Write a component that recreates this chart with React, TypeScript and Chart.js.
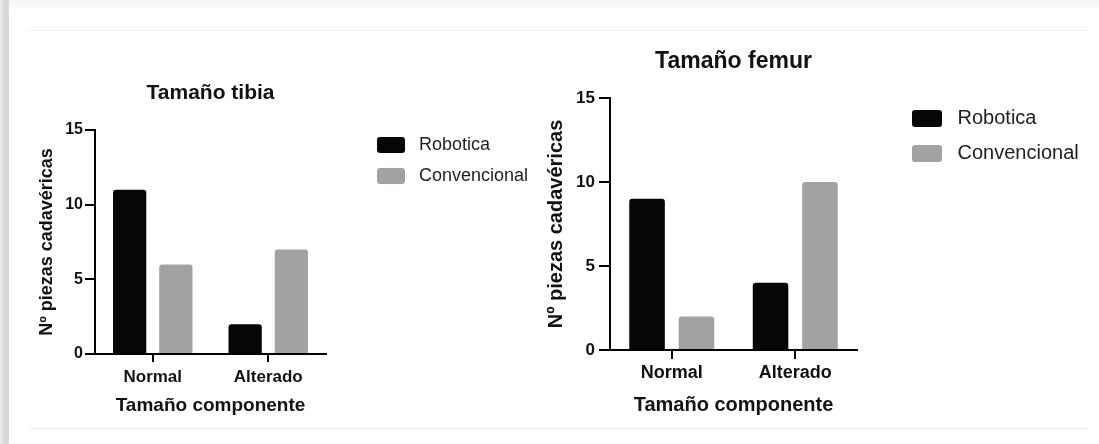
import React, { useEffect, useRef } from "react";
import { Chart, registerables } from "chart.js";

Chart.register(...registerables);

// ---- data ----
const categories = ["Normal", "Alterado"];
const seriesNames = ["Robotica", "Convencional"];
const tibiaRobotica = [11, 2];
const tibiaConvencional = [6, 7];
const femurRobotica = [9, 4];
const femurConvencional = [2, 10];
const yTicks = [0, 5, 10, 15];
const chartTitles = ["Tamaño tibia", "Tamaño femur"];
const yAxisTitle = "Nº piezas cadavéricas";
const xAxisTitle = "Tamaño componente";

// ---- style ----
const FONT = "Arial, 'Liberation Sans', Helvetica, sans-serif";
const BLACK = "#060606";
const GRAY = "#a4a1a5";
const TEXT = "#121212";

type Spec = {
  title: string;
  rob: number[];
  conv: number[];
  width: number;
  height: number;
  plotLeft: number;
  plotRight: number;
  plotTop: number;
  plotBottom: number;
  titleFont: number;
  titleCY: number;
  yTitleFont: number;
  yTitleCX: number;
  yTickFont: number;
  yTickLen: number;
  yTickPad: number;
  xTickFont: number;
  xLabelCY: number;
  xTickLen: number;
  xTitleFont: number;
  xTitleCY: number;
  legendFont: number;
  boxW: number;
  boxH: number;
  boxLeft: number;
  boxTop: number;
  itemStep: number;
};

const LABEL_PREFIX = " ";

function measure(text: string, font: string) {
  const c = document.createElement("canvas").getContext("2d")!;
  c.font = font;
  return c.measureText(text).width;
}

function buildConfig(s: Spec): any {
  const lh = (f: number) => f * 1.2;
  const maxText = Math.max(
    ...seriesNames.map((n) => measure(LABEL_PREFIX + n, `${s.legendFont}px ${FONT}`))
  );
  const p = s.itemStep - Math.max(s.legendFont, s.boxH);
  const legendLeft = s.boxLeft - p;
  const legendWidth = p + s.boxW + s.legendFont / 2 + maxText + 10;
  const padRight = Math.max(0, s.width - legendLeft - legendWidth);
  const boxYOffset = Math.max((s.legendFont - s.boxH) / 2, 0);
  const legendTitleH = s.boxTop - boxYOffset - p;
  const spacerW = legendLeft - s.plotRight;

  const barCommon = {
    borderWidth: 0,
    borderRadius: 3,
    categoryPercentage: 0.8,
    barPercentage: 0.72,
    xAxisID: "x",
    yAxisID: "y",
  };

  return {
    type: "bar",
    data: {
      labels: categories,
      datasets: [
        { label: seriesNames[0], data: s.rob, backgroundColor: BLACK, ...barCommon },
        { label: seriesNames[1], data: s.conv, backgroundColor: GRAY, ...barCommon },
      ],
    },
    options: {
      responsive: false,
      maintainAspectRatio: false,
      animation: false,
      devicePixelRatio: 1,
      events: [],
      layout: { padding: { left: 0, top: 0, bottom: 0, right: padRight } },
      plugins: {
        tooltip: { enabled: false },
        title: {
          display: true,
          text: s.title,
          fullSize: false,
          color: TEXT,
          font: { family: FONT, size: s.titleFont, weight: "bold", lineHeight: 1.2 },
          padding: {
            top: s.titleCY - lh(s.titleFont) / 2,
            bottom: s.plotTop - s.titleCY - lh(s.titleFont) / 2,
          },
        },
        legend: {
          display: true,
          position: "right",
          align: "start",
          maxWidth: 1000,
          title: {
            display: true,
            text: "",
            font: { size: 1, lineHeight: 1 },
            padding: { top: legendTitleH - 1, bottom: 0 },
          },
          labels: {
            boxWidth: s.boxW,
            boxHeight: s.boxH,
            padding: p,
            color: "#1e1e1e",
            useBorderRadius: true,
            borderRadius: 3,
            font: { family: FONT, size: s.legendFont },
            generateLabels: (chart: any) =>
              Chart.defaults.plugins.legend.labels
                .generateLabels(chart)
                .map((item: any) => ({ ...item, text: LABEL_PREFIX + item.text })),
          },
        },
      },
      scales: {
        x: {
          type: "category",
          position: "bottom",
          offset: true,
          afterFit: (sc: any) => {
            sc.height = s.height - s.plotBottom;
          },
          grid: {
            offset: false,
            drawOnChartArea: false,
            drawTicks: true,
            tickLength: s.xTickLen,
            color: "#000",
            lineWidth: 2,
          },
          border: { display: true, color: "#000", width: 2 },
          ticks: {
            color: TEXT,
            font: { family: FONT, size: s.xTickFont, weight: "bold", lineHeight: 1.2 },
            padding: s.xLabelCY - s.plotBottom - s.xTickLen - lh(s.xTickFont) / 2,
            maxRotation: 0,
          },
          title: {
            display: true,
            text: xAxisTitle,
            color: TEXT,
            font: { family: FONT, size: s.xTitleFont, weight: "bold", lineHeight: 1.2 },
            padding: { top: 0, bottom: s.height - s.xTitleCY - lh(s.xTitleFont) / 2 },
          },
        },
        y: {
          type: "linear",
          position: "left",
          min: 0,
          max: 15,
          afterBuildTicks: (sc: any) => {
            sc.ticks = yTicks.map((v) => ({ value: v }));
          },
          afterFit: (sc: any) => {
            sc.width = s.plotLeft;
          },
          grid: {
            drawOnChartArea: false,
            drawTicks: true,
            tickLength: s.yTickLen,
            color: "#000",
            lineWidth: 2,
          },
          border: { display: true, color: "#000", width: 2 },
          ticks: {
            color: TEXT,
            padding: s.yTickPad,
            font: { family: FONT, size: s.yTickFont, weight: "bold" },
          },
          title: {
            display: true,
            text: yAxisTitle,
            color: TEXT,
            font: { family: FONT, size: s.yTitleFont, weight: "bold", lineHeight: 1.2 },
            padding: { top: s.yTitleCX - lh(s.yTitleFont) / 2, bottom: 0 },
          },
        },
        spacer: {
          type: "linear",
          axis: "y",
          position: "right",
          display: true,
          grid: { display: false, drawTicks: false },
          border: { display: false },
          ticks: { display: false },
          afterFit: (sc: any) => {
            sc.width = spacerW;
          },
        },
      },
    },
  };
}

const tibiaSpec: Spec = {
  title: chartTitles[0],
  rob: tibiaRobotica,
  conv: tibiaConvencional,
  width: 540,
  height: 444,
  plotLeft: 95,
  plotRight: 326,
  plotTop: 130,
  plotBottom: 354,
  titleFont: 21,
  titleCY: 93,
  yTitleFont: 18,
  yTitleCX: 47,
  yTickFont: 16,
  yTickLen: 10,
  yTickPad: 2,
  xTickFont: 17,
  xLabelCY: 377,
  xTickLen: 8,
  xTitleFont: 19,
  xTitleCY: 406,
  legendFont: 18,
  boxW: 28,
  boxH: 16,
  boxLeft: 377,
  boxTop: 137,
  itemStep: 31,
};

const FEMUR_X = 530;
const femurSpec: Spec = {
  title: chartTitles[1],
  rob: femurRobotica,
  conv: femurConvencional,
  width: 569,
  height: 444,
  plotLeft: 610 - FEMUR_X,
  plotRight: 857 - FEMUR_X,
  plotTop: 98,
  plotBottom: 350,
  titleFont: 23,
  titleCY: 62,
  yTitleFont: 20,
  yTitleCX: 556 - FEMUR_X,
  yTickFont: 17,
  yTickLen: 11,
  yTickPad: 4,
  xTickFont: 18,
  xLabelCY: 373,
  xTickLen: 9,
  xTitleFont: 20,
  xTitleCY: 405,
  legendFont: 20,
  boxW: 30,
  boxH: 17,
  boxLeft: 912 - FEMUR_X,
  boxTop: 110,
  itemStep: 35,
};

function BarChart({ spec, left }: { spec: Spec; left: number }) {
  const ref = useRef<HTMLCanvasElement>(null);
  useEffect(() => {
    const chart = new Chart(ref.current as HTMLCanvasElement, buildConfig(spec));
    return () => chart.destroy();
  }, []);
  return (
    <canvas
      ref={ref}
      width={spec.width}
      height={spec.height}
      style={{
        position: "absolute",
        left,
        top: 0,
        width: spec.width,
        height: spec.height,
      }}
    />
  );
}

export default function App() {
  return (
    <div
      style={{
        position: "absolute",
        left: 0,
        top: 0,
        width: 1099,
        height: 444,
        overflow: "hidden",
        background: "#ffffff",
      }}
    >
      <div
        style={{
          position: "absolute",
          left: 0,
          top: 0,
          width: 9,
          height: 444,
          background: "linear-gradient(to right, #eeeeee, #d2d2d2 60%, #dcdcdc 100%)",
        }}
      />
      <div
        style={{
          position: "absolute",
          left: 9,
          top: 0,
          width: 1090,
          height: 10,
          background: "linear-gradient(to bottom, #f6f6f6, #fafafa 70%, #ffffff)",
        }}
      />
      <div
        style={{
          position: "absolute",
          left: 29,
          top: 30,
          width: 1060,
          height: 1,
          background: "#efefef",
        }}
      />
      <div
        style={{
          position: "absolute",
          left: 29,
          top: 428,
          width: 1060,
          height: 1,
          background: "#efefef",
        }}
      />
      <BarChart spec={tibiaSpec} left={0} />
      <BarChart spec={femurSpec} left={FEMUR_X} />
    </div>
  );
}
